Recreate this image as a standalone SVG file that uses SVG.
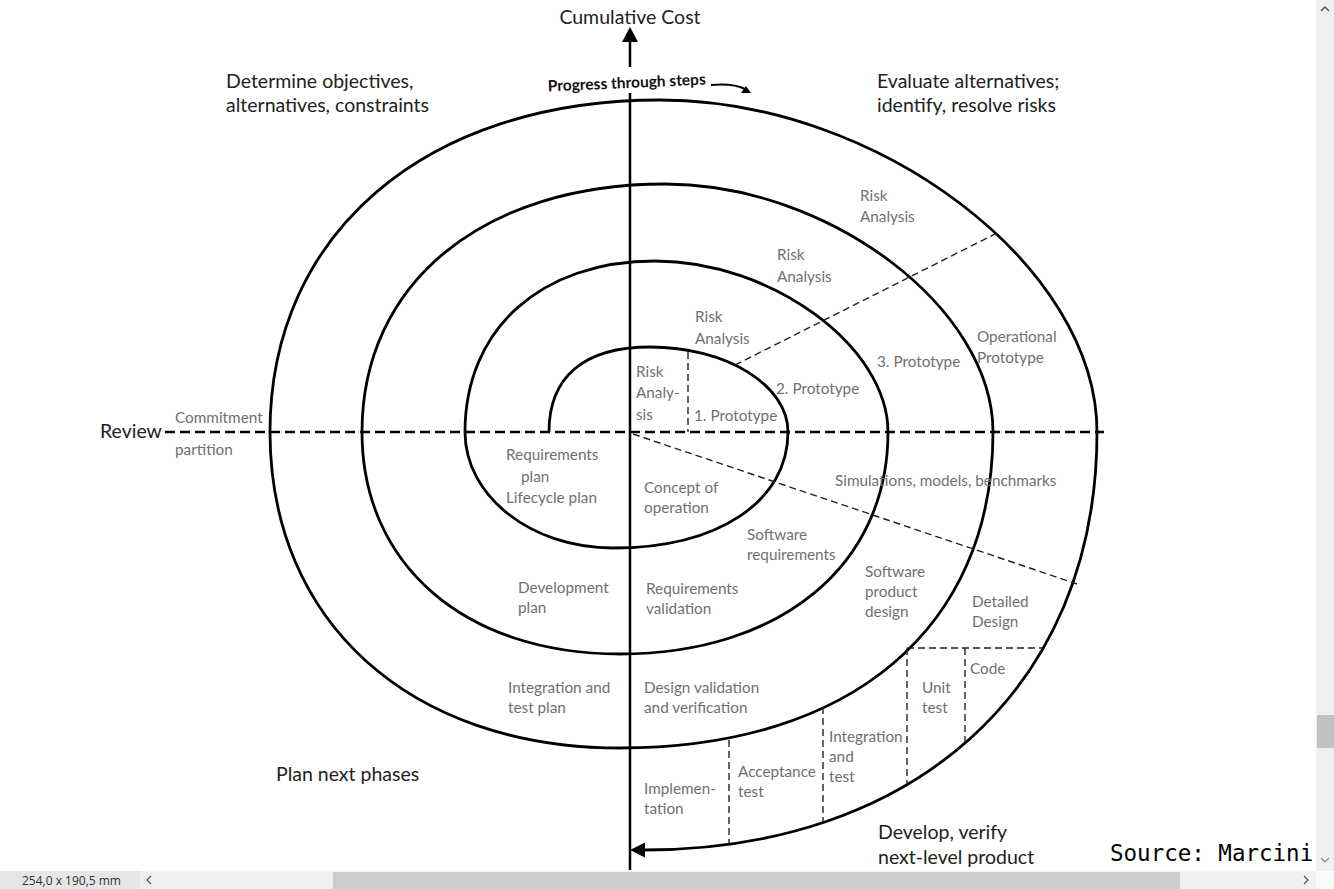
<svg xmlns="http://www.w3.org/2000/svg" width="1334" height="889" viewBox="0 0 1334 889">
<style>
.g{font-family:Lato,"Open Sans",sans-serif;font-size:15.3px;fill:#707070}
.d{font-family:Lato,"Open Sans",sans-serif;font-size:19.5px;fill:#222}
.sp{fill:none;stroke:#000;stroke-width:2.8}
.ax{fill:none;stroke:#000;stroke-width:2.5}
.dh{fill:none;stroke:#000;stroke-width:2.6;stroke-dasharray:10 5}
.dt{fill:none;stroke:#222;stroke-width:1.4;stroke-dasharray:7 4}
</style>
<rect width="1334" height="889" fill="#fff"/>
<g id="connectors">
<path class="sp" d="M 549 432 C 549 376.75 584 347 650 347 C 726 347 788 385 788 432 C 788 501.6 718 548 613 548 C 531 548 465 496 465 432 C 465 329 541 261 655 261 C 771.5 261 888 346.5 888 432 C 888 565 781 654 620 654 C 465 654 362 565 362 432 C 362 283 483 184 665 184 C 829 184 993 308 993 432 C 993 628 851 748 620 748 C 410 748 270 622 270 432 C 270 233 426 100 660 100 C 878.5 100 1097 266 1097 432 C 1097 692 910 850 644 850"/>
<polygon points="630,850 645,842.5 645,857.5" fill="#000"/>
<line class="ax" x1="630" y1="40" x2="630" y2="67"/>
<line class="ax" x1="630" y1="93" x2="630" y2="870"/>
<polygon points="630,27 622,42 638,42" fill="#000"/>
<path d="M 711 85 Q 733 83 745 89" fill="none" stroke="#000" stroke-width="2"/>
<polygon points="751,93 741,93 746,86" fill="#000"/>
<line class="dh" x1="165" y1="432" x2="1104" y2="432"/>
<line class="dt" x1="633" y1="434" x2="1077" y2="584"/>
<line class="dt" x1="735" y1="365" x2="997" y2="233"/>
<line class="dt" x1="688" y1="352" x2="688" y2="432"/>
<line class="dt" x1="907" y1="648" x2="1042" y2="648"/>
<line class="dt" x1="907" y1="648" x2="907" y2="783"/>
<line class="dt" x1="965" y1="648" x2="965" y2="746"/>
<line class="dt" x1="823" y1="707" x2="823" y2="821"/>
<line class="dt" x1="729" y1="740" x2="729" y2="843"/>
</g>
<g id="titles">
<text class="d" x="630" y="24" text-anchor="middle">Cumulative Cost</text>
<text x="627" y="88" text-anchor="middle" transform="rotate(-2.5 627 88)" style="font-family:Lato,'Open Sans',sans-serif;font-size:15.5px;font-weight:bold;fill:#111">Progress through steps</text>
<text class="d" x="226" y="88">Determine objectives,</text>
<text class="d" x="226" y="112">alternatives, constraints</text>
<text class="d" x="877" y="88">Evaluate alternatives;</text>
<text class="d" x="877" y="112">identify, resolve risks</text>
<text class="d" x="100" y="438">Review</text>
<text class="d" x="276" y="781">Plan next phases</text>
<text class="d" x="878" y="839">Develop, verify</text>
<text class="d" x="878" y="864">next-level product</text>
</g>
<g id="labels">
<text class="g" x="175" y="423">Commitment</text>
<text class="g" x="175" y="455">partition</text>
<text class="g" x="860" y="201">Risk</text>
<text class="g" x="860" y="222">Analysis</text>
<text class="g" x="777" y="260">Risk</text>
<text class="g" x="777" y="282">Analysis</text>
<text class="g" x="695" y="322">Risk</text>
<text class="g" x="695" y="344">Analysis</text>
<text class="g" x="636" y="377">Risk</text>
<text class="g" x="636" y="398">Analy-</text>
<text class="g" x="636" y="420">sis</text>
<text class="g" x="694" y="421">1. Prototype</text>
<text class="g" x="776" y="394">2. Prototype</text>
<text class="g" x="877" y="367">3. Prototype</text>
<text class="g" x="977" y="342">Operational</text>
<text class="g" x="977" y="363">Prototype</text>
<text class="g" x="835" y="486">Simulations, models, benchmarks</text>
<text class="g" x="506" y="460">Requirements</text>
<text class="g" x="521" y="482">plan</text>
<text class="g" x="506" y="503">Lifecycle plan</text>
<text class="g" x="644" y="493">Concept of</text>
<text class="g" x="644" y="513">operation</text>
<text class="g" x="747" y="540">Software</text>
<text class="g" x="747" y="560">requirements</text>
<text class="g" x="518" y="593">Development</text>
<text class="g" x="518" y="613">plan</text>
<text class="g" x="646" y="594">Requirements</text>
<text class="g" x="646" y="614">validation</text>
<text class="g" x="865" y="577">Software</text>
<text class="g" x="865" y="597">product</text>
<text class="g" x="865" y="617">design</text>
<text class="g" x="972" y="607">Detailed</text>
<text class="g" x="972" y="627">Design</text>
<text class="g" x="508" y="693">Integration and</text>
<text class="g" x="508" y="713">test plan</text>
<text class="g" x="644" y="693">Design validation</text>
<text class="g" x="644" y="713">and verification</text>
<text class="g" x="970" y="674">Code</text>
<text class="g" x="922" y="693">Unit</text>
<text class="g" x="922" y="713">test</text>
<text class="g" x="829" y="742">Integration</text>
<text class="g" x="829" y="762">and</text>
<text class="g" x="829" y="782">test</text>
<text class="g" x="738" y="777">Acceptance</text>
<text class="g" x="738" y="797">test</text>
<text class="g" x="644" y="794">Implemen-</text>
<text class="g" x="644" y="814">tation</text>
</g>
<g id="source">
<text x="1110" y="861" style="font-family:'DejaVu Sans Mono',monospace;font-size:22.5px;fill:#000">Source: Marcini</text>
</g>
<g id="chrome">
<rect x="1316" y="0" width="18" height="871" fill="#f0f0f0"/>
<polyline points="1321,11 1325,7 1329,11" fill="none" stroke="#555" stroke-width="1.5"/>
<rect x="1317" y="715" width="17" height="33" fill="#c1c1c1"/>
<polyline points="1321,858 1325,862 1329,858" fill="none" stroke="#888" stroke-width="1.2"/>
<rect x="0" y="871" width="1334" height="18" fill="#f0f0f0"/>
<rect x="0" y="871" width="140" height="18" fill="#e6e6e6"/>
<text x="22" y="885" style="font-family:'Open Sans',sans-serif;font-size:12px;fill:#333">254,0 x 190,5 mm</text>
<polyline points="151,876 147,880 151,884" fill="none" stroke="#555" stroke-width="1.2"/>
<rect x="333" y="872" width="847" height="17" fill="#cdcdcd"/>
<polyline points="1304,876 1308,880 1304,884" fill="none" stroke="#555" stroke-width="1.2"/>
<rect x="1316" y="871" width="18" height="18" fill="#fafafa"/>
</g>
</svg>
